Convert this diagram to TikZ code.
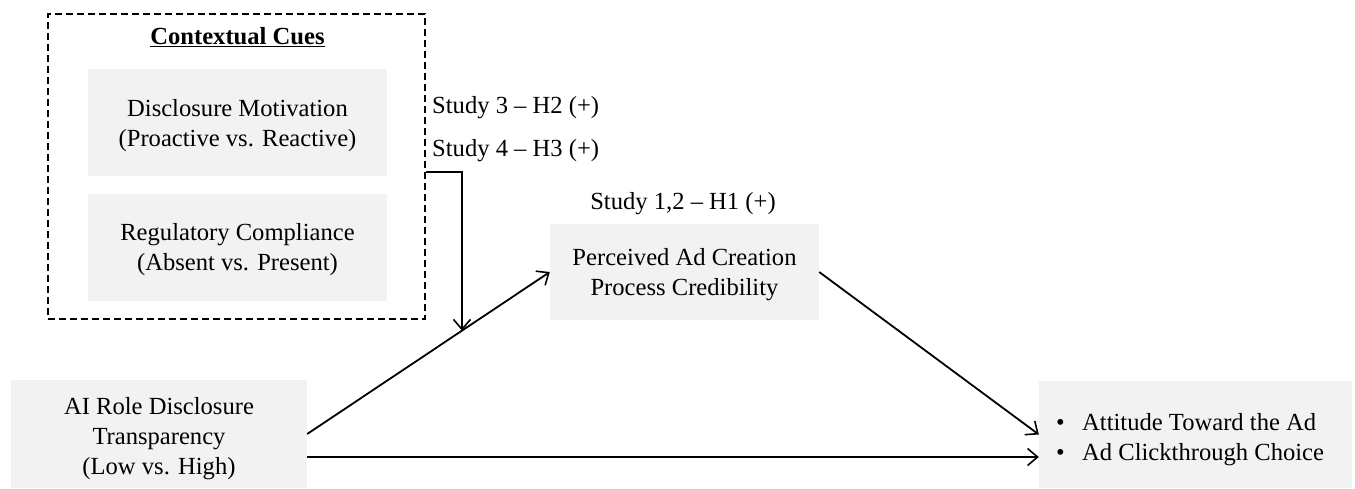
\documentclass[tikz,border=0pt]{standalone}
\usepackage{fontspec}
\setmainfont{Liberation Serif}
\usetikzlibrary{arrows.meta,calc}
\begin{document}
\begin{tikzpicture}[x=1pt,y=-1pt,
  font=\fontsize{24.6}{30}\selectfont,
  box/.style={fill=boxgray,draw=none,inner sep=0pt},
  arr/.style={line width=1.8pt,-{Straight Barb[length=10pt,width=17pt,line width=1.6pt]}},
  lbl/.style={inner sep=0pt,align=center}]
\definecolor{boxgray}{HTML}{F2F2F2}
\useasboundingbox (0,0) rectangle (1355,488);
% contextual cues container
\node[draw,line width=1.5pt,dash pattern=on 7pt off 4pt,minimum width=377pt,minimum height=305pt,inner sep=0pt] (ctx) at (236.5,166.5) {};
\node[lbl,font=\fontsize{24.6}{30}\selectfont\bfseries] (title) at (237.5,37) {\underline{Contextual Cues}};
\node[box,minimum width=299pt,minimum height=107pt] (dm) at (237.5,122.5) {};
\node[lbl] (dmt) at ([yshift=-3pt]dm.center) {Disclosure Motivation\\(Proactive vs. Reactive)};
\node[box,minimum width=299pt,minimum height=107pt] (rc) at (237.5,247.5) {};
\node[lbl] (rct) at ([yshift=-2pt]rc.center) {Regulatory Compliance\\(Absent vs. Present)};
% mediator
\node[box,minimum width=269pt,minimum height=96pt] (pc) at (684.5,272) {};
\node[lbl] (pct) at ([yshift=-3pt]pc.center) {Perceived Ad Creation\\Process Credibility};
% independent variable
\node[box,minimum width=296pt,minimum height=108pt] (ai) at (159,434) {};
\node[lbl] (ait) at (159,439) {AI Role Disclosure\\Transparency\\(Low vs. High)};
% outcomes
\node[box,minimum width=313pt,minimum height=107pt] (out) at (1195.5,434.5) {};
\node[lbl,anchor=west,align=left] (outt) at (1056,440) {\makebox[26pt][l]{\textbullet}Attitude Toward the Ad\\\makebox[26pt][l]{\textbullet}Ad Clickthrough Choice};
% labels
\node[lbl,anchor=west] (s3) at (432,108) {Study 3 -- H2 (+)};
\node[lbl,anchor=west] (s4) at (432,151) {Study 4 -- H3 (+)};
\node[lbl] (s12) at (683,204) {Study 1,2 -- H1 (+)};
% connectors
\draw[arr] (ai.east) -- (pc.west);
\coordinate (h) at ([yshift=-23pt]ai.east);
\draw[arr] (h) -- (h -| out.west);
\draw[arr] (pc.east) -- (out.west);
\coordinate (m) at ($(ai.east)!0.638!(pc.west)$);
\coordinate (ms) at ([yshift=-5.5pt]ctx.east);
\draw[arr] (ms) -- (ms -| m) -- (m);
\end{tikzpicture}
\end{document}
